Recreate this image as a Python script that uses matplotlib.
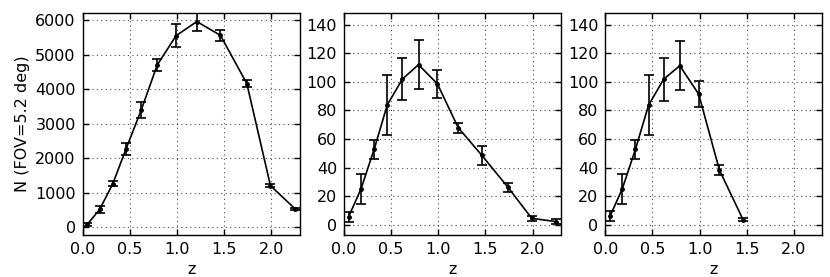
import matplotlib
matplotlib.use("Agg")
import matplotlib.pyplot as plt

z = [0.05, 0.18, 0.32, 0.46, 0.62, 0.79, 0.99, 1.21, 1.46, 1.74, 1.99, 2.25]

n1 = [80, 510, 1260, 2270, 3390, 4700, 5550, 5960, 5560, 4160, 1200, 530]
e1 = [50, 90, 80, 180, 230, 180, 330, 270, 150, 100, 40, 30]

n2 = [5.6, 24.9, 52.8, 84, 102, 112, 98.6, 68, 48.6, 26, 4.4, 2.1]
e2 = [3.5, 10.5, 6.5, 21, 15, 17, 10, 3.5, 6.6, 3, 1.6, 1.5]

z3 = [0.05, 0.18, 0.32, 0.46, 0.62, 0.79, 0.99, 1.21, 1.46]
n3 = [5.8, 25, 52.8, 83.8, 101.9, 111.3, 91.4, 38.2, 3.5]
e3 = [3.5, 10.5, 6.5, 21, 15, 17, 9, 3.5, 1.2]

xticks = [0.0, 0.5, 1.0, 1.5, 2.0]

plt.rcParams['font.family'] = ['DejaVu Sans']
plt.rcParams['font.size'] = 11.5

fig, axes = plt.subplots(1, 3, figsize=(8.3, 2.77), dpi=100)
fig.subplots_adjust(left=0.0996, right=0.9907, top=0.952, bottom=0.153, wspace=0.204)

data = [(z, n1, e1, (-220, 6200)), (z, n2, e2, (-7, 148)), (z3, n3, e3, (-7, 148))]
for ax, (x, y, e, yl) in zip(axes, data):
    ax.errorbar(x, y, yerr=e, color='black', marker='o', markersize=2.5,
                linewidth=1.2, elinewidth=1.2, capsize=3.5, capthick=1.2)
    ax.set_xlim(0, 2.3)
    ax.set_ylim(*yl)
    ax.set_xticks(xticks)
    ax.grid(True, linestyle=(0, (1, 3)), color='black', linewidth=0.8, alpha=0.7)
    ax.tick_params(direction='in', top=True, right=True, length=4, width=1, pad=5)
    for s in ax.spines.values():
        s.set_linewidth(1.0)
    ax.set_xlabel('z', labelpad=4)

axes[0].set_yticks([0, 1000, 2000, 3000, 4000, 5000, 6000])
for ax in axes[1:]:
    ax.set_yticks([0, 20, 40, 60, 80, 100, 120, 140])
axes[0].set_ylabel('N (FOV=5.2 deg)', labelpad=4)

fig.savefig('out.png', dpi=100)
